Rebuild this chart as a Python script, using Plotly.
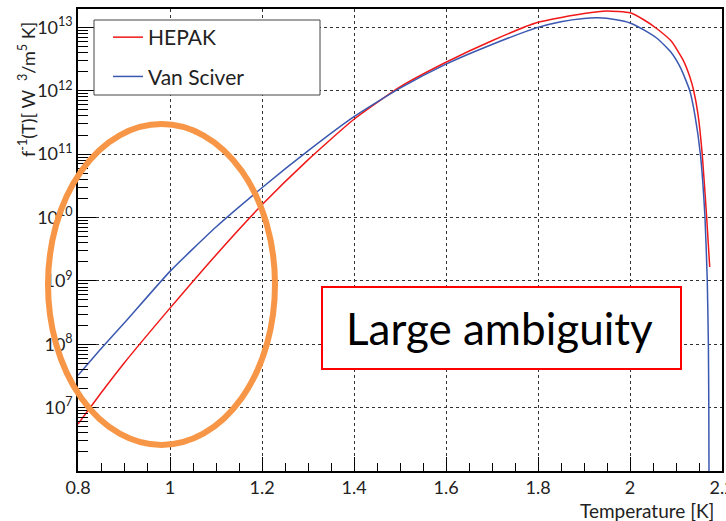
import plotly.graph_objects as go

# HEPAK curve: temperature [K] and log10 of f^-1(T)
hepak_T = [0.80, 0.85, 0.90, 1.00, 1.10, 1.20, 1.30, 1.40, 1.50, 1.60, 1.70, 1.80,
           1.90, 1.95, 2.00, 2.03, 2.06, 2.09, 2.115, 2.13, 2.1385, 2.148, 2.157,
           2.1667, 2.1733]
hepak_log10_f = [6.74, 7.23, 7.70, 8.57, 9.41, 10.20, 10.91, 11.55, 12.06, 12.45, 12.79, 13.08,
                 13.22, 13.26, 13.23, 13.12, 12.97, 12.78, 12.49, 12.22, 12.00, 11.62, 11.00,
                 10.00, 9.22]

# Van Sciver curve
vs_T = [0.80, 0.85, 0.90, 1.00, 1.10, 1.20, 1.30, 1.40, 1.50, 1.60, 1.70, 1.80, 1.85,
        1.90, 1.93, 1.97, 2.00, 2.03, 2.06, 2.09, 2.11, 2.13, 2.141, 2.153, 2.163,
        2.168, 2.1704, 2.1713, 2.1718]
vs_log10_f = [7.51, 7.93, 8.33, 9.15, 9.85, 10.47, 11.05, 11.59, 12.04, 12.42, 12.73, 13.00, 13.09,
              13.14, 13.15, 13.12, 13.07, 12.96, 12.82, 12.60, 12.36, 12.00, 11.62, 11.00, 10.00,
              9.00, 8.00, 7.00, 5.80]

y_exponents = [7, 8, 9, 10, 11, 12, 13]

FONT = "Lato, 'Open Sans', sans-serif"
W, H = 726, 521
ML, MR, MT, MB = 78, 4, 9, 50
PW, PH = W - ML - MR, H - MT - MB


def px(x):
    return (x - ML) / PW


def py(y):
    return (H - MB - y) / PH


fig = go.Figure()
fig.add_trace(go.Scatter(
    x=hepak_T, y=[10 ** v for v in hepak_log10_f], mode="lines", name="HEPAK",
    legendgroup="a", line=dict(color="#f01818", width=1.5, shape="spline", smoothing=0.5)))
fig.add_trace(go.Scatter(
    x=vs_T, y=[10 ** v for v in vs_log10_f], mode="lines", name="Van Sciver",
    legendgroup="b", line=dict(color="#3a58b0", width=1.5, shape="spline", smoothing=0.5)))

no_grid = dict(showgrid=False, gridcolor="rgba(0,0,0,0)")
GRID = "#333"

fig.update_xaxes(
    range=[0.8, 2.2], tickmode="linear", tick0=0.8, dtick=0.2, tickformat="~g",
    ticks="inside", ticklen=14, tickcolor="black", tickwidth=1,
    minor=dict(tickmode="linear", tick0=0.8, dtick=0.05, ticks="inside", ticklen=8,
               tickcolor="black", **no_grid),
    showgrid=True, gridcolor=GRID, griddash="dot", gridwidth=1,
    showline=True, linecolor="black", linewidth=1.5, mirror=True, zeroline=False,
    ticklabeloverflow="allow", automargin=False,
    tickfont=dict(family=FONT, size=18, color="#222"))

fig.update_yaxes(
    type="log", range=[6.0, 13.29],
    tickmode="array", tickvals=[10 ** e for e in y_exponents],
    ticktext=[f"10<sup>{e}</sup>" for e in y_exponents],
    ticks="inside", ticklen=18, tickcolor="black", tickwidth=1,
    minor=dict(dtick="D1", ticks="inside", ticklen=10, tickcolor="black", **no_grid),
    showgrid=True, gridcolor=GRID, griddash="dot", gridwidth=1,
    showline=True, linecolor="black", linewidth=1.5, mirror=True, zeroline=False,
    automargin=False,
    tickfont=dict(family=FONT, size=18, color="#222"))

fig.update_layout(
    width=W, height=H, margin=dict(l=ML, r=MR, t=MT, b=MB, autoexpand=False),
    paper_bgcolor="white", plot_bgcolor="white",
    font=dict(family=FONT, size=18, color="#222"),
    legend=dict(x=px(108), y=py(17), xanchor="left", yanchor="top",
                bgcolor="rgba(0,0,0,0)", borderwidth=0,
                font=dict(family=FONT, size=21, color="#222"),
                tracegroupgap=9, traceorder="grouped"),
    shapes=[
        # legend frame
        dict(type="rect", xref="paper", yref="paper",
             x0=px(94), x1=px(320), y0=py(95), y1=py(20),
             line=dict(color="#444", width=1), fillcolor="white"),
        dict(type="circle", xref="paper", yref="paper",
             x0=px(48), x1=px(275), y0=py(445), y1=py(124),
             line=dict(color="#F79646", width=6)),
        dict(type="rect", xref="paper", yref="paper",
             x0=px(322), x1=px(681), y0=py(369), y1=py(287),
             line=dict(color="#ff0000", width=2), fillcolor="white"),
    ],
    annotations=[
        dict(text="Large ambiguity", xref="paper", yref="paper",
             x=px(499), y=py(328), xanchor="center", yanchor="middle", showarrow=False,
             font=dict(family=FONT, size=44, color="black")),
        dict(text="Temperature [K]", xref="paper", yref="paper",
             x=px(716), y=py(510), xanchor="right", yanchor="middle", showarrow=False,
             font=dict(family=FONT, size=19, color="#222")),
        dict(text="f<sup>-1</sup>(T)[ W  <sup>3</sup>/m<sup>5</sup> K]", xref="paper", yref="paper",
             x=px(27), y=py(90), xanchor="center", yanchor="middle", showarrow=False,
             textangle=-90, font=dict(family=FONT, size=18, color="#222")),
    ],
)

fig.write_html("out.html")
